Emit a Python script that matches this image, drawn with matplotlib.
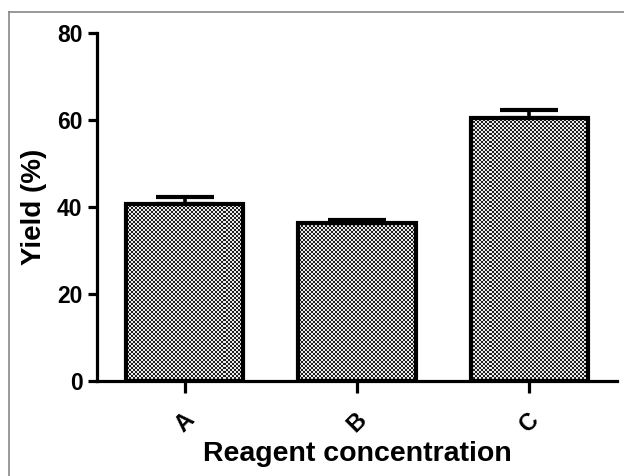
import numpy as np
import matplotlib
matplotlib.use("Agg")
import matplotlib.pyplot as plt
from matplotlib.lines import Line2D

categories = ["A", "B", "C"]
yield_values = [40.6, 36.3, 60.4]
yield_errors = [1.6, 0.8, 2.0]
y_ticks = [0, 20, 40, 60, 80]

plt.rcParams['font.family'] = ['Liberation Sans', 'DejaVu Sans']
plt.rcParams['font.weight'] = 'bold'

W, H, DPI = 624, 476, 100
fig = plt.figure(figsize=(W / DPI, H / DPI), dpi=DPI)
ax_l, ax_r, ax_b, ax_t = 97, 617, 381, 33
ax = fig.add_axes([ax_l / W, 1 - ax_b / H, (ax_r - ax_l) / W, (ax_b - ax_t) / H])

x = np.arange(len(categories))
bars = ax.bar(x, yield_values, width=0.68, facecolor='none', edgecolor='black',
              linewidth=3.0, zorder=3)
ax.errorbar(x, yield_values, yerr=[[0] * len(x), yield_errors], fmt='none',
            ecolor='black', elinewidth=2.6, capsize=21, capthick=3.0, zorder=4)

ax.set_xlim(-0.51, 2.51)
ax.set_ylim(0, 80)

# checkerboard texture clipped to each bar
pw, ph = (ax_r - ax_l), (ax_b - ax_t)
cell = 2
ny, nx = ph // cell + 1, pw // cell + 1
yy, xx = np.mgrid[0:ny, 0:nx]
checker = ((xx + yy) % 2).astype(float)
for b in bars:
    im = ax.imshow(checker, cmap='gray', vmin=-0.15, vmax=1.1, interpolation='nearest',
                   extent=[-0.51, -0.51 + nx * cell * 3.02 / pw, 80 - ny * cell * 80 / ph, 80],
                   aspect='auto', zorder=2)
    im.set_clip_path(b)
ax.set_xlim(-0.51, 2.51)
ax.set_ylim(0, 80)

for s in ['top', 'right']:
    ax.spines[s].set_visible(False)
for s in ['left', 'bottom']:
    ax.spines[s].set_linewidth(2.3)

ax.set_yticks(y_ticks)
ax.set_yticklabels([str(v) for v in y_ticks], fontsize=16.5, fontweight='bold')
ax.set_xticks(x)
ax.set_xticklabels(categories, fontsize=17, fontweight='bold', rotation=45)
ax.tick_params(axis='y', length=6.5, width=2.3, pad=4)
ax.tick_params(axis='x', length=8.6, width=2.3, pad=11)

ax.set_ylabel("Yield (%)", fontsize=20, fontweight='bold', labelpad=7)
ax.set_xlabel("Reagent concentration", fontsize=20.5, fontweight='bold', labelpad=3)

# outer frame of the figure image
fig.add_artist(Line2D([9 / W, 1.0], [1 - 12 / H, 1 - 12 / H], color='#888888', lw=1.2,
                      transform=fig.transFigure))
fig.add_artist(Line2D([9 / W, 9 / W], [1 - 12 / H, 0], color='#888888', lw=1.2,
                      transform=fig.transFigure))

fig.savefig("out.png", dpi=DPI)
